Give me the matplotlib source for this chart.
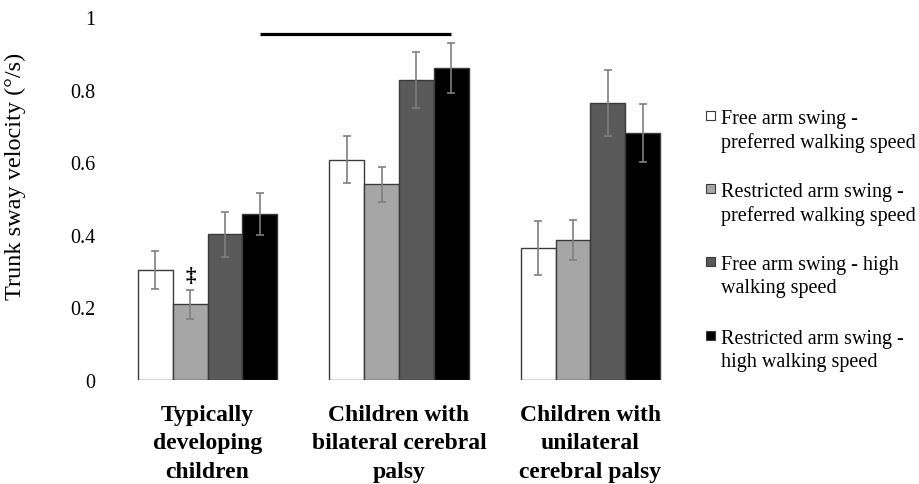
import matplotlib
matplotlib.use("Agg")
import matplotlib.pyplot as plt
import numpy as np
from matplotlib.patches import Rectangle

groups = ["Typically\ndeveloping\nchildren",
          "Children with\nbilateral cerebral\npalsy",
          "Children with\nunilateral\ncerebral palsy"]
series = ["Free arm swing -\npreferred walking speed",
          "Restricted arm swing -\npreferred walking speed",
          "Free arm swing - high\nwalking speed",
          "Restricted arm swing -\nhigh walking speed"]
means = [
    [0.304, 0.607, 0.363],
    [0.208, 0.539, 0.386],
    [0.401, 0.826, 0.762],
    [0.457, 0.860, 0.681],
]
errors = [
    [0.052, 0.064, 0.074],
    [0.040, 0.048, 0.055],
    [0.063, 0.077, 0.091],
    [0.057, 0.068, 0.080],
]
colors = ["#FFFFFF", "#A6A6A6", "#595959", "#000000"]
yticks = [0, 0.2, 0.4, 0.6, 0.8, 1]
yticklabels = ["0", "0.2", "0.4", "0.6", "0.8", "1"]
sig_line = (0.275, 1.272, 0.954)
dagger = ("‡", 0, 1, 0.287)  # symbol, group index, series index, y

plt.rcParams['font.family'] = ['Liberation Serif', 'DejaVu Serif']

W, H = 919, 485
fig = plt.figure(figsize=(W / 100, H / 100), dpi=100)
ax = fig.add_axes([112 / W, (H - 381) / H, (686 - 112) / W, (381 - 18) / H])

x = np.arange(len(groups))
w = 0.182
for i in range(4):
    ax.bar(x + (i - 1.5) * w, means[i], width=w, color=colors[i],
           edgecolor="#3a3a3a", linewidth=1.0, zorder=2)
    ax.errorbar(x + (i - 1.5) * w, means[i], yerr=errors[i], fmt="none",
                ecolor="#7f7f7f", elinewidth=1.2, capsize=3, capthick=1.2, zorder=3)

ax.set_xlim(-0.5, 2.5)
ax.set_ylim(0, 1)
ax.set_yticks(yticks)
ax.set_yticklabels(yticklabels, fontsize=14.5)
ax.set_xticks(x)
ax.set_xticklabels(groups, fontsize=17, fontweight="bold", linespacing=1.48)
ax.tick_params(axis="y", length=0, pad=12)
ax.tick_params(axis="x", length=0, pad=17)
for s in ax.spines.values():
    s.set_visible(False)
ax.set_ylabel("Trunk sway velocity (°/s)", fontsize=17.5, labelpad=18)
ax.yaxis.set_label_coords(-0.149, 0.565)

ax.plot([sig_line[0], sig_line[1]], [sig_line[2], sig_line[2]], color="black",
        linewidth=2.3, solid_capstyle="butt", clip_on=False)

sym, gi, si, yy = dagger
ax.text(x[gi] + (si - 1.5) * w, yy, sym, ha="center", va="center",
        fontsize=15, fontweight="bold", family=['Liberation Serif', 'DejaVu Serif'])

# legend
leg_y = [116, 189, 262, 336]
for i in range(4):
    cy = leg_y[i]
    fig.add_artist(Rectangle(((706) / W, (H - cy - 4.5) / H), 9 / W, 9 / H,
                             facecolor=colors[i], edgecolor="#3a3a3a", linewidth=0.8,
                             transform=fig.transFigure))
    fig.text(721 / W, (H - cy + 6) / H, series[i], ha="left", va="top",
             fontsize=14.5, linespacing=1.25)

fig.savefig("out.png", dpi=100)
